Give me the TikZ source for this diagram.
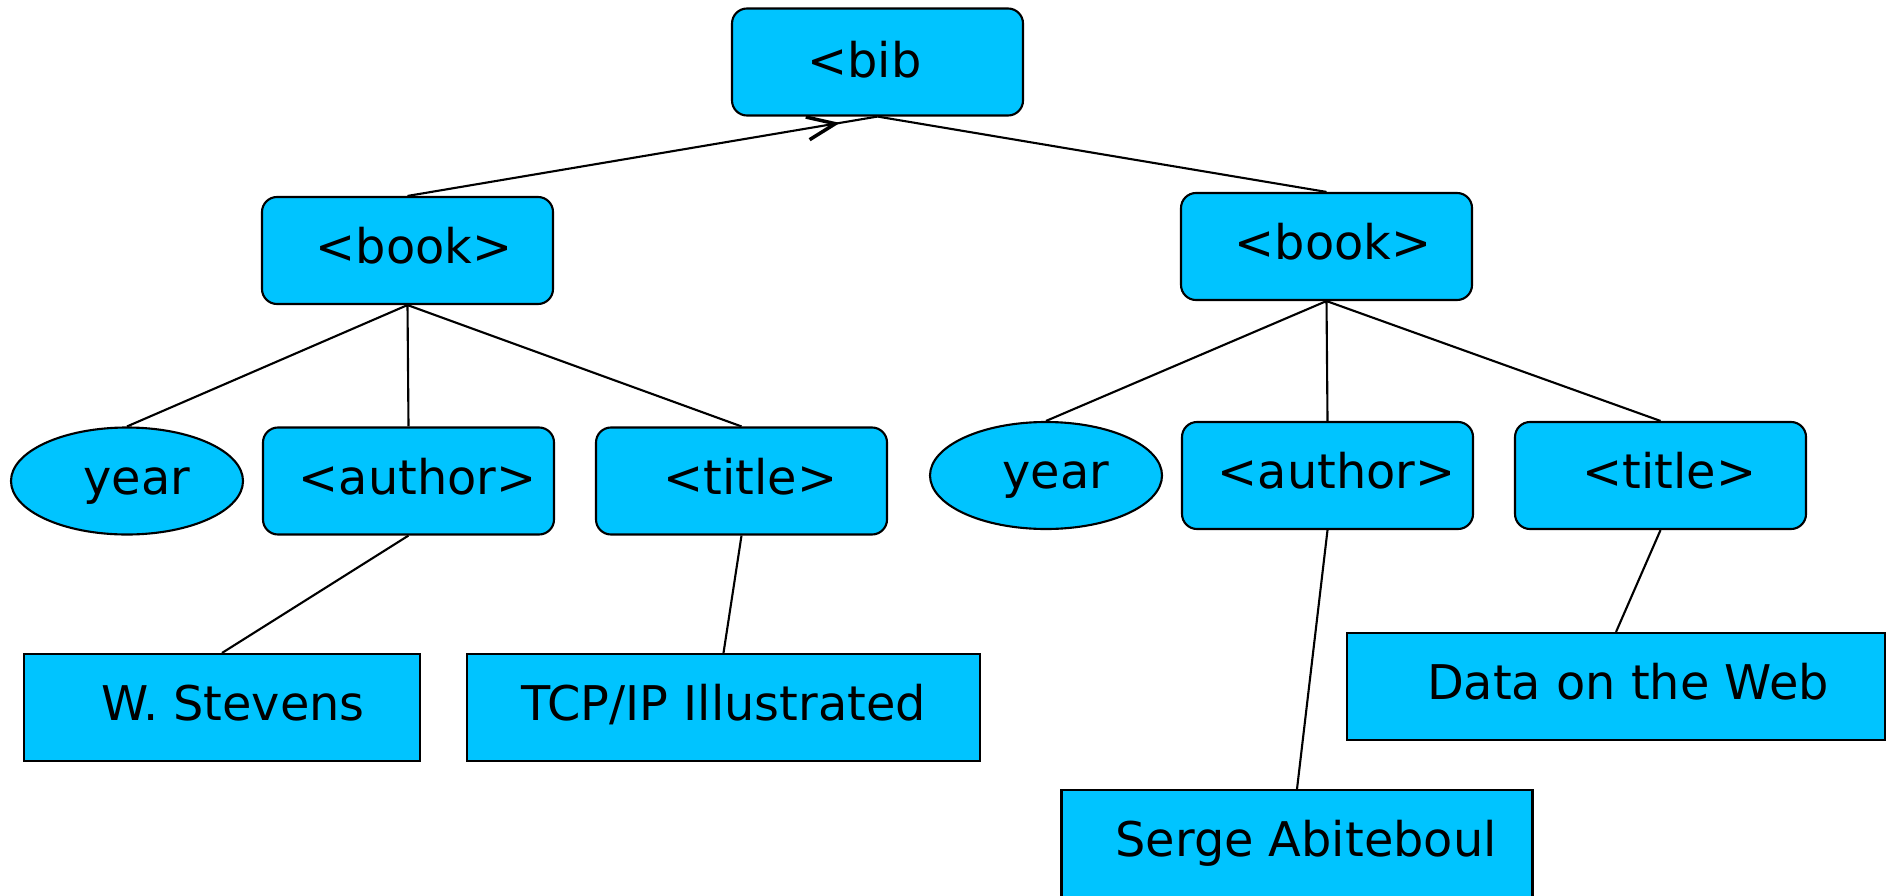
\documentclass[tikz,border=0pt]{standalone}
\usepackage{fontspec}
\setmainfont{DejaVu Sans}
\usepackage{tikz}
\usetikzlibrary{shapes.geometric,arrows.meta,decorations.markings}

\definecolor{boxblue}{RGB}{0,196,255}

\begin{document}
\begin{tikzpicture}[
  line width=0.6pt,
  nudge/.store in=\txtnudge, nudge=0.18cm,
  every node/.style={font=\fontsize{13.6pt}{16pt}\selectfont,
    text height=0.76em, text depth=0pt, inner sep=0pt,
    execute at begin node={\hspace{\txtnudge}}},
  elem/.style={draw, fill=boxblue, rounded corners=0.15cm,
    minimum width=2.91cm, minimum height=1.07cm},
  attr/.style={draw, fill=boxblue, ellipse,
    minimum width=2.32cm, minimum height=1.07cm},
  leaf/.style={draw, fill=boxblue, minimum height=1.07cm},
  midarrow/.style={decoration={markings,
    mark=at position #1 with {\arrow[line width=1pt]{Straight Barb[length=2.8mm,width=2.3mm]}}},
    postaction={decorate}}
]
  \useasboundingbox (0,0) rectangle (18.92,-8.95);

  \node[elem, nudge=-0.26cm, text height=0.88em] (bib) at (8.775,-0.62) {<bib};

  \node[elem, nudge=0.13cm] (book1) at (4.075,-2.505) {<book>};
  \node[elem, nudge=0.13cm] (book2) at (13.265,-2.465) {<book>};

  \node[attr, nudge=0.2cm] (year1) at (1.27,-4.81) {year};
  \node[elem] (author1) at (4.085,-4.81) {<author>};
  \node[elem] (title1) at (7.415,-4.81) {<title>};
  \node[attr, nudge=0.2cm] (year2) at (10.46,-4.755) {year};
  \node[elem] (author2) at (13.275,-4.755) {<author>};
  \node[elem] (title2) at (16.605,-4.755) {<title>};

  \node[leaf, minimum width=3.96cm, nudge=0.22cm] (stevens) at (2.22,-7.075) {W. Stevens};
  \node[leaf, minimum width=5.13cm, nudge=0cm] (tcpip) at (7.235,-7.075) {TCP/IP Illustrated};
  \node[leaf, minimum width=5.38cm, nudge=0.24cm] (dataweb) at (16.16,-6.865) {Data on the Web};
  \node[leaf, minimum width=4.71cm] (serge) at (12.97,-8.435) {Serge Abiteboul};

  \draw[midarrow=0.92] (book1.north) -- (bib.south);
  \draw (bib.south) -- (book2.north);
  \draw (book1.south) -- (year1.north)
        (book1.south) -- (author1.north)
        (book1.south) -- (title1.north);
  \draw (book2.south) -- (year2.north)
        (book2.south) -- (author2.north)
        (book2.south) -- (title2.north);
  \draw (author1.south) -- (stevens.north);
  \draw (title1.south) -- (tcpip.north);
  \draw (author2.south) -- (serge.north);
  \draw (title2.south) -- (dataweb.north);
\end{tikzpicture}
\end{document}
